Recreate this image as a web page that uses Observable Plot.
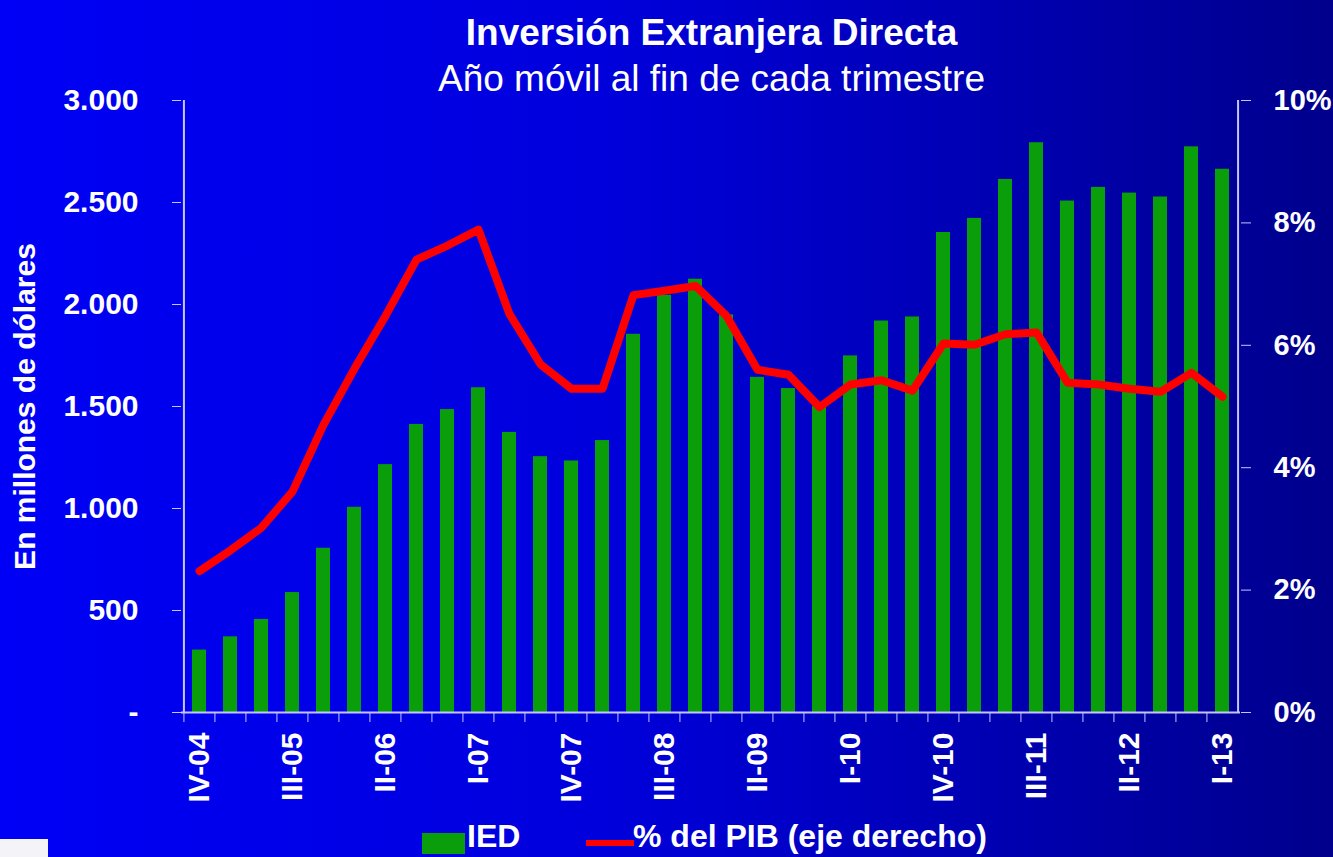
<!DOCTYPE html>
<html>
<head>
<meta charset="utf-8">
<script src="https://cdn.jsdelivr.net/npm/d3@7"></script>
<script src="https://cdn.jsdelivr.net/npm/@observablehq/plot@0.6"></script>
<style>
  html, body { margin: 0; padding: 0; }
  #page {
    position: relative; width: 1333px; height: 857px; overflow: hidden;
    background: linear-gradient(to right, #0000f6 0%, #0000dc 45%, #0000aa 80%, #00008c 100%);
    font-family: "Liberation Sans", Arial, sans-serif; color: white;
  }
  #header { height: 92px; text-align: center; padding-left: 90px; box-sizing: border-box; }
  #title { font-weight: bold; font-size: 37px; padding-top: 13px; line-height: 40px; }
  #subtitle { font-size: 37px; line-height: 40px; margin-top: 6px; }
  #legend { position: absolute; left: 0; top: 818px; width: 1333px; height: 39px; font-weight: bold; font-size: 32px; line-height: 37px; }
  .sw { position: absolute; }
  #logo { position: absolute; left: 0; top: 839px; width: 48px; height: 18px; background: #f4f4f8; }
</style>
</head>
<body>
<div id="page">
  <div id="header">
    <div id="title">Inversión Extranjera Directa</div>
    <div id="subtitle">Año móvil al fin de cada trimestre</div>
  </div>
  <div id="chart"></div>
  <div id="legend">
    <div class="sw" style="left:422px; top:15px; width:43px; height:21px; background:#0a9e0a;"></div>
    <div class="sw" style="left:467px; top:0px;">IED</div>
    <div class="sw" style="left:586px; top:22px; width:48px; height:6px; background:#ff0000;"></div>
    <div class="sw" style="left:633px; top:0px;">% del PIB (eje derecho)</div>
  </div>
  <div id="logo"></div>
</div>
<script>
const quarters = ["IV-04","I-05","II-05","III-05","IV-05","I-06","II-06","III-06","IV-06","I-07","II-07","III-07","IV-07","I-08","II-08","III-08","IV-08","I-09","II-09","III-09","IV-09","I-10","II-10","III-10","IV-10","I-11","II-11","III-11","IV-11","I-12","II-12","III-12","IV-12","I-13"];
const ied = [306,371,456,588,805,1006,1215,1412,1485,1592,1373,1254,1233,1333,1854,2045,2124,1949,1643,1588,1500,1748,1919,1939,2353,2422,2613,2793,2507,2574,2546,2527,2773,2663];
const pib = [2.31,2.65,3.02,3.61,4.70,5.62,6.48,7.40,7.63,7.89,6.51,5.69,5.29,5.29,6.82,6.89,6.97,6.48,5.60,5.52,4.99,5.36,5.43,5.26,6.03,6.01,6.18,6.21,5.39,5.36,5.29,5.24,5.55,5.16];
const leftTicks = [0,500,1000,1500,2000,2500,3000];
const rightTicks = [0,2,4,6,8,10];
const labelQuarters = quarters.filter((d, i) => i % 3 === 0);

const data = quarters.map((q, i) => ({q, ied: ied[i], pib: pib[i]}));
const k = 3000 / 10; // right axis (%) mapped onto left axis scale

const W = 1333, ML = 181, MR = 93;
const step = (W - ML - MR) / quarters.length;
const axisColor = "#c4c4ff";

const chart = Plot.plot({
  width: W, height: 722,
  marginTop: 8, marginBottom: 102, marginLeft: ML, marginRight: MR,
  style: {background: "transparent", color: "white", fontFamily: "'Liberation Sans', Arial, sans-serif", fontWeight: "bold", overflow: "visible"},
  x: {type: "band", domain: quarters, paddingInner: 0.55, paddingOuter: 0.275, axis: null},
  y: {domain: [0, 3000], axis: null},
  marks: [
    Plot.barY(data, {x: "q", y: "ied", fill: "#0a9e0a"}),
    Plot.ruleY([0], {stroke: axisColor, strokeWidth: 2}),
    Plot.ruleX([quarters[0]], {x: d => d, dx: -step / 2, y1: 0, y2: 3000, stroke: axisColor, strokeWidth: 2}),
    Plot.ruleX([quarters[quarters.length - 1]], {x: d => d, dx: step / 2, y1: 0, y2: 3000, stroke: axisColor, strokeWidth: 2}),
    Plot.axisY({anchor: "left", ticks: leftTicks, tickSize: 9, tickPadding: 34, fontSize: 30, stroke: axisColor, fill: "white",
      tickFormat: d => d === 0 ? "-" : d3.format(",")(d).replace(",", "."),
      label: "En millones de dólares", labelAnchor: "center", labelOffset: 168, labelArrow: "none"}),
    Plot.axisY({anchor: "right", ticks: rightTicks.map(v => v * k), tickSize: 10, tickPadding: 23, fontSize: 29, stroke: axisColor, fill: "white",
      tickFormat: d => (d / k) + "%", label: null}),
    Plot.axisX({ticks: quarters, tickSize: 10, dx: -step / 2, tickFormat: () => "", stroke: axisColor, label: null}),
    Plot.axisX({ticks: labelQuarters, tickSize: 0, tickPadding: 20, tickRotate: -90, fontSize: 30, fill: "white", label: null}),
    Plot.lineY(data, {x: "q", y: d => d.pib * k, stroke: "#ff0000", strokeWidth: 8, strokeLinejoin: "round", strokeLinecap: "round"})
  ]
});
document.getElementById("chart").appendChild(chart);
</script>
</body>
</html>
